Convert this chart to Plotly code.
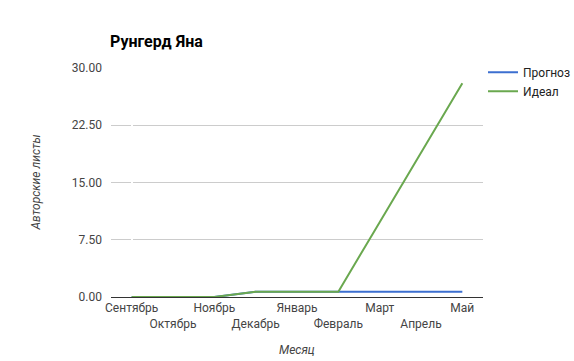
import plotly.graph_objects as go

months = ["Сентябрь", "Октябрь", "Ноябрь", "Декабрь", "Январь", "Февраль", "Март", "Апрель", "Май"]
forecast = [0, 0, 0, 0.7, 0.7, 0.7, 0.7, 0.7, 0.7]
ideal = [0, 0, 0, 0.7, 0.7, 0.7, 9.8, 18.9, 28.0]
y_ticks = [0, 7.5, 15, 22.5, 30]

x = list(range(len(months)))
ticktext = [m if i % 2 == 0 else "<br>" + m for i, m in enumerate(months)]

W, H = 574, 361
L, R, T, B = 111, 91, 68, 64

fig = go.Figure()
fig.add_trace(go.Scatter(x=x, y=forecast, mode="lines", name="Прогноз",
                         line=dict(color="#3c6fd0", width=2)))
fig.add_trace(go.Scatter(x=x, y=ideal, mode="lines", name="Идеал",
                         line=dict(color="#6aa84f", width=2)))

fig.update_layout(
    width=W, height=H,
    margin=dict(l=L, r=R, t=T, b=B, autoexpand=False),
    paper_bgcolor="white", plot_bgcolor="white",
    font=dict(family="Roboto, Arial, sans-serif", size=12, color="#444"),
    title=dict(text="<b>Рунгерд Яна</b>", x=110/W, xanchor="left", y=1-41/H, yanchor="middle",
               font=dict(size=16, color="#000", family="Roboto, Arial, sans-serif")),
    showlegend=True,
    legend=dict(x=1.0, xanchor="left", y=1.045, yanchor="top", bgcolor="rgba(0,0,0,0)",
                font=dict(size=12, color="#222"), tracegroupgap=0, itemwidth=30),
    xaxis=dict(range=[-0.5, 8.5], tickmode="array", tickvals=x, ticktext=ticktext,
               tickangle=0, automargin=False,
               showgrid=False, showline=True, linecolor="#333", linewidth=1, ticks="",
               tickfont=dict(size=12, color="#444"), fixedrange=True),
    yaxis=dict(range=[0, 30], tickmode="array", tickvals=y_ticks,
               ticktext=[f"{v:.2f}" for v in y_ticks], automargin=False,
               showgrid=True, gridcolor="#cccccc", zeroline=True, zerolinecolor="#333",
               zerolinewidth=1, ticks="", ticklabelstandoff=8,
               tickfont=dict(size=12, color="#444")),
    annotations=[
        dict(text="<i>Месяц</i>", xref="paper", yref="paper", x=0.5, y=-(350 - (H - B)) / (H - T - B),
             yanchor="middle", showarrow=False, font=dict(size=12, color="#444")),
        dict(text="<i>Авторские листы</i>", xref="paper", yref="paper",
             x=-(L - 35) / (W - L - R), y=0.5, xanchor="center", yanchor="middle",
             textangle=-90, showarrow=False, font=dict(size=12, color="#444")),
    ],
)

fig.write_html("out.html")
